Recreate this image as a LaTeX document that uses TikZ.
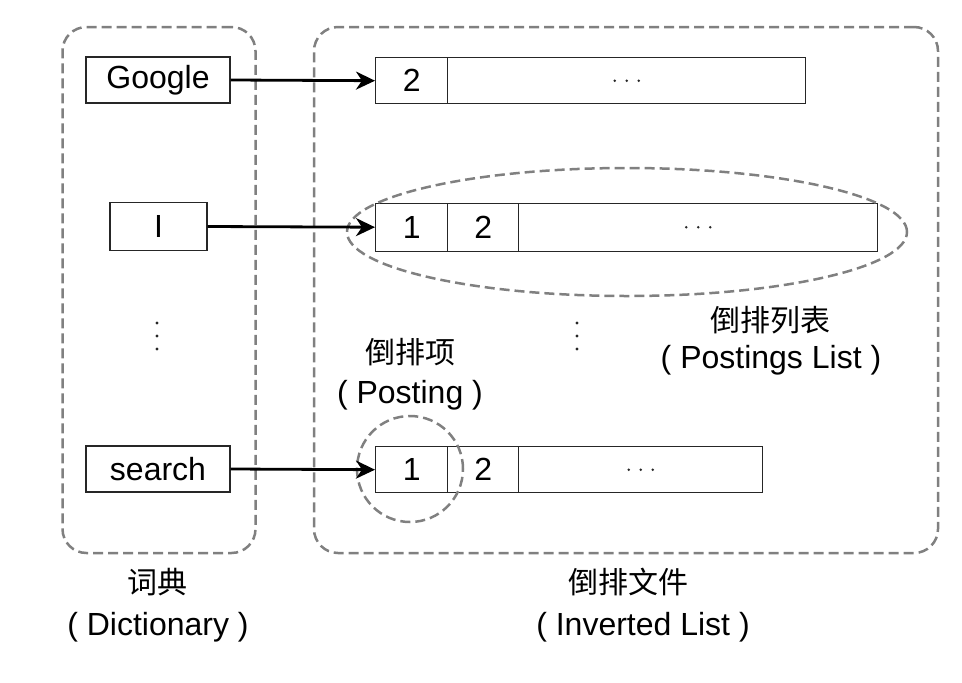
\documentclass[tikz,border=0pt]{standalone}
\usepackage{fontspec}
\setmainfont{Liberation Sans}
\newfontfamily\cjk{Noto Sans CJK SC}
\usetikzlibrary{arrows.meta,shapes.geometric,calc}
\tikzset{
  cell/.style={draw=black!85, line width=1.4pt, inner sep=0pt, anchor=north west, minimum height=47pt, font=\fontsize{32}{36}\selectfont},
  word/.style={draw=black!85, line width=1.4pt, inner sep=0pt, minimum height=46pt, font=\fontsize{32}{36}\selectfont},
  container/.style={draw=black!50, line width=2.5pt, dash pattern=on 10pt off 5pt, rounded corners=24pt, inner sep=0pt},
  dashring/.style={draw=black!50, line width=2.5pt, dash pattern=on 10pt off 5pt, inner sep=0pt},
  link/.style={line width=2.8pt, -{Stealth[length=19pt,width=18pt,inset=6pt]}},
  lbl/.style={font=\fontsize{32}{36}\selectfont, inner sep=0pt},
  clbl/.style={font=\cjk\fontsize{30}{34}\selectfont, inner sep=0pt},
  dot/.style={fill=black!85, draw=none}
}
\begin{document}
\begin{tikzpicture}[x=1pt,y=-1pt]
\useasboundingbox (0,0) rectangle (962,683);
% containers
\node[container, minimum width=193pt, minimum height=526pt] (dict) at (159,290) {};
\node[container, minimum width=624pt, minimum height=526pt] (inv) at (626,290) {};
% dictionary words
\node[word, minimum width=144pt] (google) at (158,80) {Google};
\node[word, minimum width=97pt, minimum height=48pt] (iw) at (158.5,226.5) {I};
\node[word, minimum width=144pt] (search) at (158,469) {search};
% row 1
\node[cell, minimum width=72pt, minimum height=46pt] (r1a) at (375,57) {2};
\node[cell, minimum width=358pt, minimum height=46pt] (r1b) at (447,57) {};
% row 2
\node[cell, minimum width=72pt, minimum height=48pt] (r2a) at (375,202.5) {1};
\node[cell, minimum width=71pt, minimum height=48pt] (r2b) at (447,202.5) {2};
\node[cell, minimum width=359pt, minimum height=48pt] (r2c) at (518,202.5) {};
% row 3
\node[cell, minimum width=72pt, minimum height=46pt] (r3a) at (375,446) {1};
\node[cell, minimum width=71pt, minimum height=46pt] (r3b) at (447,446) {2};
\node[cell, minimum width=244pt, minimum height=46pt] (r3c) at (518,446) {};
% horizontal ellipsis dots
\foreach \c in {r1b,r2c,r3c} {
  \foreach \dx in {-12,0,12} {
    \fill[dot] ($(\c.center)+(\dx,0)$) circle (1.4pt);
  }
}
% ellipse and circle
\node[dashring, ellipse, minimum width=560pt, minimum height=128pt] (plist) at (627,232) {};
\node[dashring, circle, minimum size=106pt] (post) at (410,469) {};
% arrows
\draw[link] (google.east) -- (r1a.west);
\draw[link] (iw.east) -- (r2a.west);
\draw[link] (search.east) -- (r3a.west);
% vertical dots
\foreach \yy in {323,336,349} {
  \fill[dot] (157,\yy) circle (1.7pt);
  \fill[dot] (577,\yy) circle (1.7pt);
}
% labels
\node[clbl] (postingcn) at (410,352) {倒排项};
\node[lbl] (postingen) at (410,395) {( Posting )};
\node[clbl] (plistcn) at (770,320) {倒排列表};
\node[lbl] (plisten) at (771,360) {( Postings List )};
\node[clbl] (dictcn) at (157,582) {词典};
\node[lbl] (dicten) at (158,627) {( Dictionary )};
\node[clbl] (invcn) at (628,582) {倒排文件};
\node[lbl] (inven) at (643,627) {( Inverted List )};
\end{tikzpicture}
\end{document}
